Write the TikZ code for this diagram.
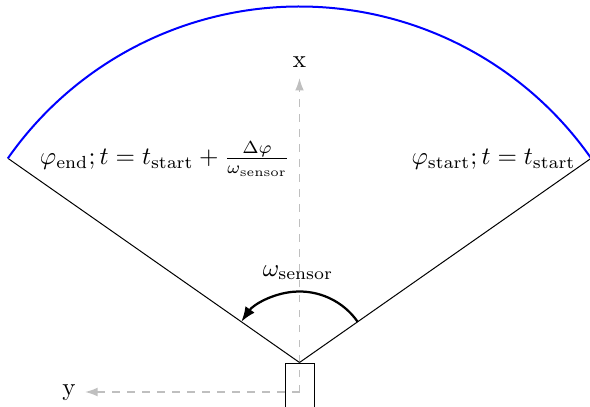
\documentclass[tikz,border=0pt]{standalone}
\usetikzlibrary{calc,arrows.meta}
\begin{document}
\begin{tikzpicture}[x=0.4pt,y=0.4pt,
  axisline/.style={gray!50, dashed, line width=0.6pt, -{Latex[length=5pt,width=3.5pt]}},
  rangeline/.style={black, line width=0.4pt},
  fov/.style={blue, line width=0.8pt},
  rot/.style={black, line width=0.9pt, -{Latex[length=6pt,width=4.5pt]}},
  sensorbox/.style={draw, black, line width=0.4pt, minimum width=11.6pt, minimum height=23.2pt, inner sep=0pt, fill=none}
]
\useasboundingbox (0,0) rectangle (590,406);
\coordinate (o) at (299.5,43.5);
\coordinate (ax) at (299.5,14);
\coordinate (r) at ($(o)+(35:356)$);
\coordinate (l) at ($(o)+(145:356)$);
\coordinate (xtip) at (299.5,328);
\coordinate (ytip) at (85,14);
\coordinate (ws) at ($(o)+(35:71)$);
% axes
\draw[axisline] (ax) -- (xtip);
\draw[axisline] (ax) -- (ytip);
\node[anchor=base] (xl) at (299.5,338) {x};
\node[anchor=base] (yl) at (69,11) {y};
% sensor
\node[sensorbox] (sensor) at (ax) {};
% field of view
\draw[rangeline] (o) -- (r);
\draw[rangeline] (o) -- (l);
\draw[fov] (r) arc[start angle=35, end angle=145, radius=356];
% rotation
\draw[rot] (ws) arc[start angle=35, end angle=145, radius=71];
\node[anchor=base] (wl) at (298,130) {$\omega_{\mathrm{sensor}}$};
% labels
\node[anchor=base] (startl) at (493.5,241) {$\varphi_{\mathrm{start}}; t = t_{\mathrm{start}}$};
\node[anchor=base] (endl) at (165,241) {$\varphi_{\mathrm{end}}; t = t_{\mathrm{start}} + \frac{\Delta\varphi}{\omega_{\mathrm{sensor}}}$};
\end{tikzpicture}
\end{document}
